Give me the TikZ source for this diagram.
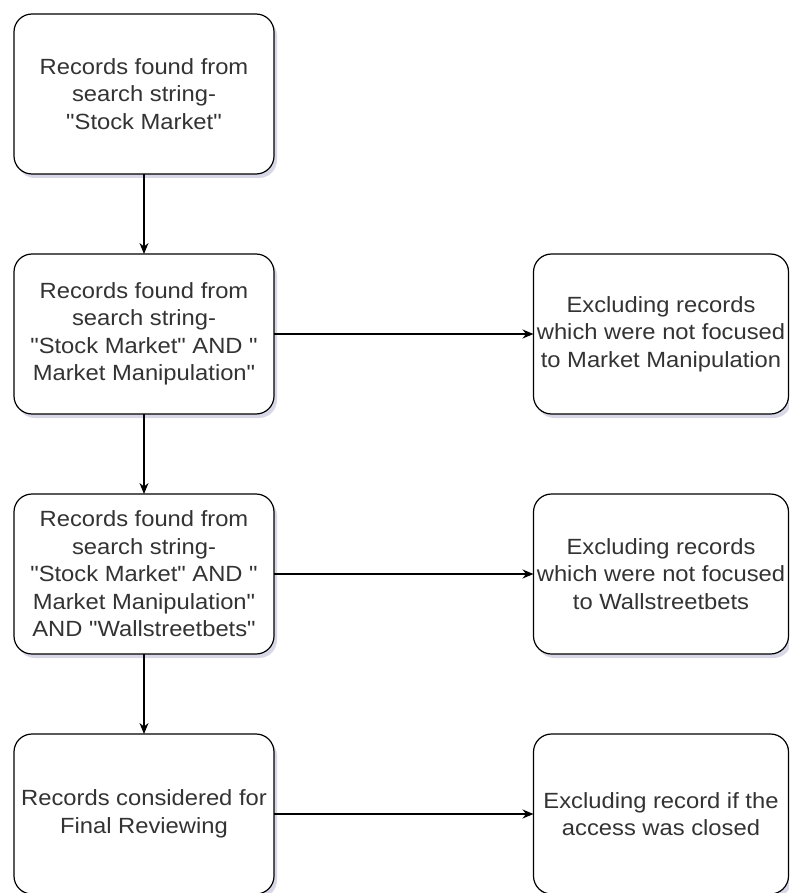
\documentclass[tikz,border=0pt]{standalone}
\usepackage{fontspec}
\setmainfont{Liberation Sans}[FakeStretch=1.08, Ligatures=TeXOff]
\usetikzlibrary{positioning,arrows.meta,shadows}

\tikzset{
    box/.style={draw, line width=1.2pt, rounded corners=18pt, fill=white,
        minimum width=260pt, minimum height=160pt, inner sep=0pt, outer sep=0pt,
        align=center, text=black!80, font=\fontsize{22}{27.5}\selectfont,
        drop shadow={shadow xshift=3pt, shadow yshift=-4pt, fill=blue!25!gray, opacity=0.25}},
    exbox/.style={box, minimum width=255pt},
    arr/.style={-{Stealth[length=11pt,width=9pt]}, line width=1.2pt}
}

\begin{document}
\begin{tikzpicture}[x=1pt,y=1pt]
    \useasboundingbox (0,0) rectangle (789,-893);
    \clip (0,0) rectangle (789,-893);

    % Left column of record boxes
    \node[box] (R1) at (144,-94) {Records found from\\search string-\\"Stock Market"};
    \node[box, below=80pt of R1] (R2) {Records found from\\search string-\\"Stock Market" AND "\\Market Manipulation"};
    \node[box, below=80pt of R2] (R3) {Records found from\\search string-\\"Stock Market" AND "\\Market Manipulation"\\AND "Wallstreetbets"};
    \node[box, below=80pt of R3] (R4) {Records considered for\\Final Reviewing};

    % Right column of exclusion boxes
    \node[exbox, right=259.5pt of R2] (E2) {Excluding records\\which were not focused\\to Market Manipulation};
    \node[exbox, right=259.5pt of R3] (E3) {Excluding records\\which were not focused\\to Wallstreetbets};
    \node[exbox, right=259.5pt of R4] (E4) {Excluding record if the\\access was closed};

    % Arrows
    \foreach \i/\j in {1/2,2/3,3/4} {
        \draw[arr] (R\i) -- (R\j);
    }
    \foreach \i in {2,3,4} {
        \draw[arr] (R\i) -- (E\i);
    }

\end{tikzpicture}
\end{document}
